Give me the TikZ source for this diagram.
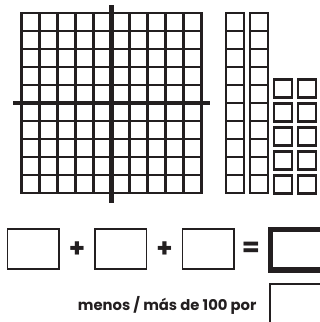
\documentclass[tikz,border=0pt]{standalone}
\usepackage{fontspec}
\setmainfont{Poppins}
\definecolor{ink}{HTML}{231F20}

\tikzset{
	block/.style={draw=ink,line width=2.3pt,line cap=rect},
	axis/.style={draw=ink,line width=4.5pt},
	answerbox/.style={draw=ink,line width=1.8pt,minimum width=51.5pt,minimum height=39.7pt,inner sep=0pt},
	sign/.style={text=ink,font=\bfseries\fontsize{26}{26}\selectfont,inner sep=0pt}
}

\begin{document}
\begin{tikzpicture}[x=1pt,y=-1pt]
	\useasboundingbox (0,0) rectangle (320,322);
	\clip (0,0) rectangle (320,322);
	\newcommand\cellsize{18};
	\newcommand\colstep{24};
	\newcommand\gridleft{21.5};
	\newcommand\gridtop{13};
	% hundred square
	\foreach \i in {0,...,10} {
		\draw[block] (\gridleft+\i*\cellsize, \gridtop) -- (\gridleft+\i*\cellsize, \gridtop+10*\cellsize);
		\draw[block] (\gridleft, \gridtop+\i*\cellsize) -- (\gridleft+10*\cellsize, \gridtop+\i*\cellsize);
	}
	\draw[axis] (111.5,5) -- (111.5,203);
	\draw[axis] (13,103) -- (209.5,103);
	% two tens
	\foreach \r in {0,1} {
		\draw[block] (226+\r*\colstep, \gridtop) rectangle (226+\r*\colstep+\cellsize, \gridtop+10*\cellsize);
		\foreach \i in {1,...,9} {
			\draw[block] (226+\r*\colstep, \gridtop+\i*\cellsize) -- (226+\r*\colstep+\cellsize, \gridtop+\i*\cellsize);
		}
	}
	% ten ones
	\foreach \c in {0,1} {
		\foreach \k in {0,...,4} {
			\draw[block] (274+\c*\colstep, 193.5-\k*\colstep) rectangle (274+\c*\colstep+\cellsize, 175.5-\k*\colstep);
		}
	}
	% sum
	\node[answerbox] (hundreds) at (33.3,249.2) {};
	\node[answerbox] (tens) at (120.8,249.2) {};
	\node[answerbox] (ones) at (208.3,249.2) {};
	\node[sign] (plusA) at (77,250) {+};
	\node[sign] (plusB) at (164.5,250) {+};
	\node[sign] (equals) at (251,249.5) {=};
	\draw[ink,line width=5.7pt] (340,229.5) -- (270.5,229.5) -- (270.5,270) -- (340,270);
	% difference
	\node[anchor=base east,text=ink,font=\bfseries\fontsize{14.8}{14.8}\selectfont,inner sep=0pt] (diffnote) at (256.7,310) {menos / más de 100 por};
	\draw[ink,line width=1.8pt] (340,284) -- (270.2,284) -- (270.2,330);
\end{tikzpicture}
\end{document}
